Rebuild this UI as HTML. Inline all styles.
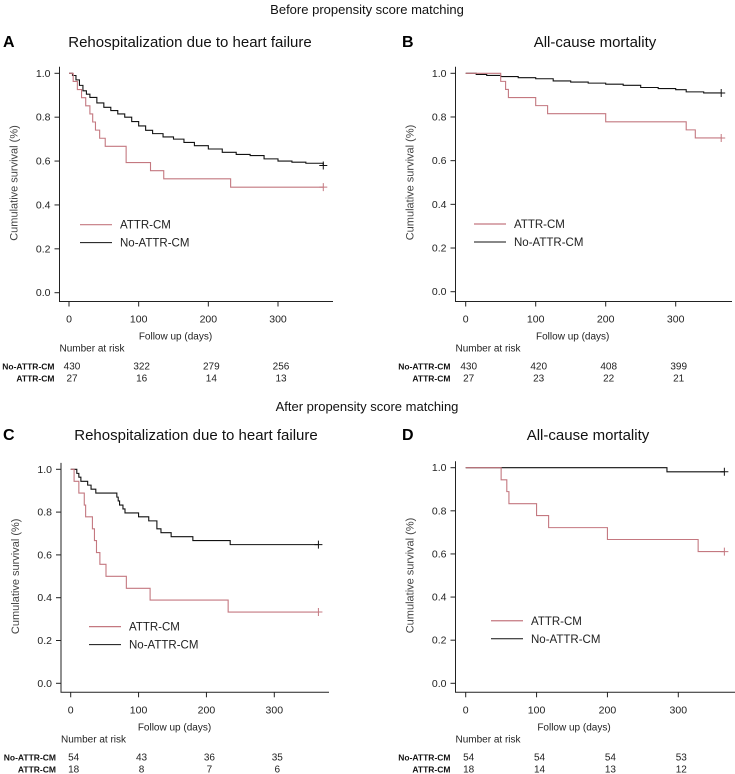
<!DOCTYPE html>
<html><head><meta charset="utf-8"><style>
body{margin:0;background:#fff;}
svg{display:block;font-family:"Liberation Sans",sans-serif;}
</style></head><body>
<svg id="fig" width="735" height="774" viewBox="0 0 735 774">
<text x="367" y="14" text-anchor="middle" font-size="13" fill="#111">Before propensity score matching</text>
<text x="367" y="411" text-anchor="middle" font-size="13" fill="#111">After propensity score matching</text>
</svg>
<script>
// Panel A
const aTimesAttr=[0,6,12,18,24,30,34,38,44,52,82,117,136,232,365];
const aSurvAttr=[1,0.963,0.926,0.889,0.852,0.815,0.778,0.741,0.704,0.667,0.593,0.556,0.519,0.481,0.481];
const aTimesNo=[0,5,10,15,20,25,30,40,50,60,70,80,90,100,110,120,135,150,165,180,200,220,240,260,280,300,320,340,365];
const aSurvNo=[1,0.99,0.97,0.945,0.92,0.905,0.89,0.865,0.845,0.83,0.815,0.80,0.78,0.76,0.74,0.725,0.71,0.70,0.685,0.67,0.655,0.64,0.63,0.625,0.61,0.60,0.595,0.59,0.58];
const aRiskNo=["430","322","279","256"];
const aRiskAttr=["27","16","14","13"];
// Panel B
const bTimesAttr=[0,50,57,61,100,117,200,315,328,365];
const bSurvAttr=[1,0.963,0.926,0.889,0.852,0.815,0.778,0.741,0.704,0.704];
const bTimesNo=[0,15,30,50,75,100,125,150,175,200,225,250,275,300,315,340,365];
const bSurvNo=[1,0.995,0.99,0.985,0.98,0.975,0.965,0.96,0.955,0.95,0.945,0.935,0.93,0.925,0.915,0.91,0.91];
const bRiskNo=["430","420","408","399"];
const bRiskAttr=["27","23","22","21"];
// Panel C
const cTimesAttr=[0,5,12,20,22,32,35,38,43,52,82,117,232,365];
const cSurvAttr=[1,0.944,0.889,0.833,0.778,0.722,0.667,0.611,0.556,0.5,0.444,0.389,0.333,0.333];
const cTimesNo=[0,9,12,15,25,30,37,68,70,72,77,80,100,115,127,133,148,180,235,365];
const cSurvNo=[1,0.981,0.963,0.944,0.926,0.907,0.889,0.87,0.852,0.833,0.815,0.796,0.778,0.759,0.722,0.704,0.685,0.667,0.648,0.648];
const cRiskNo=["54","43","36","35"];
const cRiskAttr=["18","8","7","6"];
// Panel D
const dTimesAttr=[0,50,58,61,100,117,200,328,365];
const dSurvAttr=[1,0.944,0.889,0.833,0.778,0.722,0.667,0.611,0.611];
const dTimesNo=[0,284,365];
const dSurvNo=[1,0.981,0.981];
const dRiskNo=["54","54","54","53"];
const dRiskAttr=["18","14","13","12"];
const xTicks=[0,100,200,300];
const yTicks=[0,0.2,0.4,0.6,0.8,1.0];

const NS="http://www.w3.org/2000/svg";
const svg=document.getElementById('fig');
function mk(tag,attrs,parent,text){const e=document.createElementNS(NS,tag);for(const k in attrs)e.setAttribute(k,attrs[k]);if(text!=null)e.textContent=text;(parent||svg).appendChild(e);return e;}

function panel(p){
  const g=mk('g',{});
  
  
  const sx=d=>p.x0+d*(p.x300-p.x0)/300;
  const sy=v=>p.y0-v*(p.y0-p.y1);
  const t1=mk('text',{x:p.lx,y:p.ty,'font-size':16,'font-weight':'bold',fill:'#000'},g,p.letter);
  
  
  const t2=mk('text',{x:p.tx,y:p.ty,'font-size':15,'text-anchor':'middle',fill:'#111'},g,p.title);
  
  
  const ax=mk('path',{d:`M${p.ax},${sy(1.03)}V${p.xa}H${p.xe}`,stroke:'#222','stroke-width':1,fill:'none'},g);
  
  
  yTicks.forEach(v=>{
    mk('line',{x1:p.ax-5,x2:p.ax,y1:sy(v),y2:sy(v),stroke:'#222'},g);
    const l=mk('text',{x:p.ax-9,y:sy(v)+3.5,'font-size':10.5,'text-anchor':'end',fill:'#222'},g,v.toFixed(1));
    
    
  });
  xTicks.forEach((d,i)=>{
    mk('line',{x1:sx(d),x2:sx(d),y1:p.xa,y2:p.xa+5,stroke:'#222'},g);
    const l=mk('text',{x:sx(d),y:p.xa+21,'font-size':10.5,'text-anchor':'middle',fill:'#222'},g,String(d));
    
    
    const r1=mk('text',{x:sx(d)+3,y:p.xa+68,'font-size':10,'text-anchor':'middle',fill:'#222'},g,p.riskNo[i]);
    
    
    const r2=mk('text',{x:sx(d)+3,y:p.xa+80,'font-size':10,'text-anchor':'middle',fill:'#222'},g,p.riskAttr[i]);
    
    
  });
  const yl=mk('text',{transform:`translate(${p.ax-42},${sy(0.5)}) rotate(-90)`,'font-size':11,'text-anchor':'middle',fill:'#444'},g,'Cumulative survival (%)');
  
  
  const xl=mk('text',{x:sx(150)+2,y:p.xa+38,'font-size':10,'text-anchor':'middle',fill:'#222'},g,'Follow up (days)');
  
  
  const nr=mk('text',{x:p.ax,y:p.xa+50,'font-size':10,fill:'#222'},g,'Number at risk');
  
  
  const n1=mk('text',{x:p.ax-5,y:p.xa+68,'font-size':8.5,'font-weight':'bold','text-anchor':'end',fill:'#111'},g,'No-ATTR-CM');
  
  
  const n2=mk('text',{x:p.ax-5,y:p.xa+80,'font-size':8.5,'font-weight':'bold','text-anchor':'end',fill:'#111'},g,'ATTR-CM');
  
  
  function curve(ts,vs,color,name){
    let d=`M${sx(ts[0])},${sy(vs[0])}`;
    for(let i=1;i<ts.length;i++){d+=`H${sx(ts[i])}V${sy(vs[i])}`;}
    const c=mk('path',{d:d,stroke:color,'stroke-width':1.1,fill:'none'},g);
    
    
    const ex=sx(ts[ts.length-1]),ey=sy(vs[vs.length-1]);
    const m=mk('path',{d:`M${ex-4},${ey}H${ex+4}M${ex},${ey-4}V${ey+4}`,stroke:color,'stroke-width':1},g);
    
    
  }
  curve(p.tNo,p.sNo,'#111','curve-no-attr-cm');
  curve(p.tA,p.sA,'#c47880','curve-attr-cm');
  const ly=sy(p.legV);
  mk('line',{x1:p.legX,x2:p.legX+32,y1:ly,y2:ly,stroke:'#c47880','stroke-width':1.2},g);
  const lt1=mk('text',{x:p.legX+40,y:ly+4,'font-size':11.5,fill:'#222'},g,'ATTR-CM');
  
  
  mk('line',{x1:p.legX,x2:p.legX+32,y1:ly+18,y2:ly+18,stroke:'#111','stroke-width':1},g);
  const lt2=mk('text',{x:p.legX+40,y:ly+22,'font-size':11.5,fill:'#222'},g,'No-ATTR-CM');
  
  
}
panel({letter:'A',title:'Rehospitalization due to heart failure',lx:3,tx:190,ty:47,ax:59.5,x0:69,x300:278,y0:292.7,y1:73.3,xa:301.5,xe:333,tA:aTimesAttr,sA:aSurvAttr,tNo:aTimesNo,sNo:aSurvNo,riskNo:aRiskNo,riskAttr:aRiskAttr,legX:80,legV:0.31});
panel({letter:'B',title:'All-cause mortality',lx:402,tx:595,ty:47,ax:455.5,x0:465.7,x300:675.7,y0:291.7,y1:73.3,xa:301.5,xe:732,tA:bTimesAttr,sA:bSurvAttr,tNo:bTimesNo,sNo:bSurvNo,riskNo:bRiskNo,riskAttr:bRiskAttr,legX:474,legV:0.31});
panel({letter:'C',title:'Rehospitalization due to heart failure',lx:3,tx:196,ty:440,ax:61,x0:70.7,x300:274.3,y0:683.3,y1:469.3,xa:692.3,xe:329,tA:cTimesAttr,sA:cSurvAttr,tNo:cTimesNo,sNo:cSurvNo,riskNo:cRiskNo,riskAttr:cRiskAttr,legX:89,legV:0.265});
panel({letter:'D',title:'All-cause mortality',lx:402,tx:588,ty:440,ax:455.5,x0:465.7,x300:678.3,y0:683.3,y1:467.7,xa:692.3,xe:735,tA:dTimesAttr,sA:dSurvAttr,tNo:dTimesNo,sNo:dSurvNo,riskNo:dRiskNo,riskAttr:dRiskAttr,legX:491,legV:0.29});
</script>
</body></html>
